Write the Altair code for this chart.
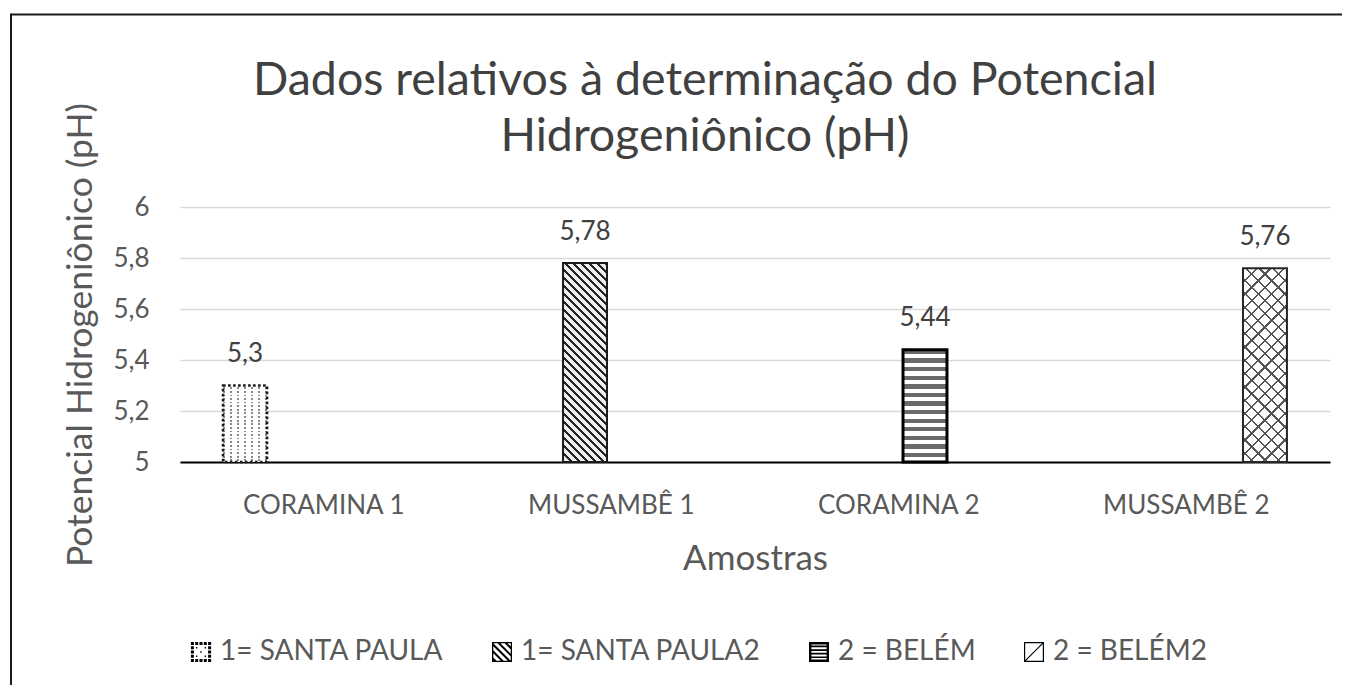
import math
import altair as alt
import pandas as pd

# ---------------- data ----------------
categories = ["CORAMINA 1", "MUSSAMBÊ 1", "CORAMINA 2", "MUSSAMBÊ 2"]
series = ["1= SANTA PAULA", "1= SANTA PAULA2", "2 = BELÉM", "2 = BELÉM2"]
ph_values = [5.3, 5.78, 5.44, 5.76]
y_ticks = [5, 5.2, 5.4, 5.6, 5.8, 6]
title_lines = ["Dados relativos à determinação do Potencial", "Hidrogeniônico (pH)"]
x_title = "Amostras"
y_title = "Potencial Hidrogeniônico (pH)"

df = pd.DataFrame({"amostra": categories, "serie": series, "ph": ph_values})

# ---------------- layout / style ----------------
FONT = "Lato"
TXT = "#595959"
W, H = 1150, 255
Y0, Y1 = 5, 6
PAD = {"left": 172, "top": 199, "right": 12, "bottom": 223}
X_PI, X_PO = 0.27, 0.135
O_PI, O_PO = 0.162, 0.081
TRANSP = "rgba(255,255,255,0)"

n_cat, n_ser = len(categories), len(series)
x_bw = W / (n_cat - X_PI + 2 * X_PO) * (1 - X_PI)
BAR_W = x_bw / (n_ser - O_PI + 2 * O_PO) * (1 - O_PI)


def bar_height(s):
    return (ph_values[series.index(s)] - Y0) / (Y1 - Y0) * H


def stripes(w, h, d, period, segs):
    """Striped linear gradient (bounding-box units) whose iso-lines follow
    pixel direction d, repeating every `period` px."""
    dx, dy = d
    ln = math.hypot(dx, dy)
    nx, ny = -dy / ln, dx / ln
    s = [0.0, w * nx, h * ny, w * nx + h * ny]
    smin, smax = min(s), max(s)
    L = smax - smin
    a0, a1 = w * nx / L, h * ny / L
    aa = a0 * a0 + a1 * a1
    x1, y1 = a0 * (smin / L) / aa, a1 * (smin / L) / aa
    x2, y2 = x1 + a0 / aa, y1 + a1 / aa
    n = L / period
    stops = []
    k = 0
    while k < n:
        for f0, f1, col in segs:
            o0, o1 = (k + f0) / n, (k + f1) / n
            if o0 >= 1:
                break
            o1 = min(o1, 1.0)
            stops.append(alt.GradientStop(offset=round(o0, 5), color=col))
            stops.append(alt.GradientStop(offset=round(o1, 5), color=col))
        k += 1
    return alt.LinearGradient(gradient="linear", stops=stops,
                              x1=round(x1, 5), y1=round(y1, 5),
                              x2=round(x2, 5), y2=round(y2, 5))


# ---------------- legend symbol paths (unit box -1..1) ----------------
def fmt(v):
    t = f"{v:.3f}".rstrip("0").rstrip(".")
    return "0" if t in ("-0", "") else t


def sarea(pts):
    return sum(pts[i][0] * pts[(i + 1) % len(pts)][1] - pts[(i + 1) % len(pts)][0] * pts[i][1]
               for i in range(len(pts)))


def poly(pts, positive=True):
    if (sarea(pts) > 0) != positive:
        pts = list(reversed(pts))
    return "M" + "L".join(f"{fmt(x)},{fmt(y)}" for x, y in pts) + "Z"


def box(x0, y0, x1, y1):
    return [(x0, y0), (x1, y0), (x1, y1), (x0, y1)]


def frame(t):
    return poly(box(-1, -1, 1, 1)) + poly(box(-1 + t, -1 + t, 1 - t, 1 - t), positive=False)


def clip(pts, b):
    for k in (0, 1):
        for sg in (1, -1):
            lim = sg * b
            out = []
            for i in range(len(pts)):
                cur, prev = pts[i], pts[i - 1]
                ins_c, ins_p = sg * cur[k] <= b, sg * prev[k] <= b
                if ins_c != ins_p:
                    t = (lim - prev[k]) / (cur[k] - prev[k])
                    out.append((prev[0] + t * (cur[0] - prev[0]), prev[1] + t * (cur[1] - prev[1])))
                if ins_c:
                    out.append(cur)
            pts = out
            if not pts:
                return []
    return pts


def stripe(d, c0, c1, b):
    dx, dy = d
    ln = math.hypot(dx, dy)
    dx, dy = dx / ln, dy / ln
    nx, ny = -dy, dx
    L = 4
    pts = [(nx * c0 - dx * L, ny * c0 - dy * L), (nx * c0 + dx * L, ny * c0 + dy * L),
           (nx * c1 + dx * L, ny * c1 + dy * L), (nx * c1 - dx * L, ny * c1 - dy * L)]
    pts = clip(pts, b)
    return poly(pts) if len(pts) >= 3 else ""


def dot(cx, cy, r):
    return poly(box(cx - r, cy - r, cx + r, cy + r))


p_dotted = ""
edge = [-0.86, -0.43, 0.0, 0.43, 0.86]
seen = set()
for p in edge:
    for q in [(p, -0.86), (p, 0.86), (-0.86, p), (0.86, p)]:
        if q not in seen:
            seen.add(q)
            p_dotted += dot(q[0], q[1], 0.15)
for q in [(-0.43, -0.43), (0.43, -0.43), (-0.43, 0.43), (0.43, 0.43), (0, 0)]:
    p_dotted += dot(q[0], q[1], 0.07)

p_hatch = frame(0.13)
c = -1.5
while c < 1.5:
    p_hatch += stripe((1, 1), c, c + 0.2, 0.87)
    c += 0.5

p_hstripe = frame(0.24)
yy = -0.64
while yy < 0.7:
    p_hstripe += poly(box(-0.76, yy, 0.76, yy + 0.17))
    yy += 0.36

p_cross = frame(0.12) + stripe((1, -1), -0.06, 0.06, 0.88)

symbol_paths = [p_dotted, p_hatch, p_hstripe, p_cross]

# ---------------- encodings ----------------
X = alt.X("amostra:N",
          scale=alt.Scale(domain=categories, paddingInner=X_PI, paddingOuter=X_PO),
          axis=alt.Axis(title=x_title, labelAngle=0, ticks=False, tickSize=0, labelPadding=30,
                        labelFont=FONT, labelFontSize=26, labelColor=TXT,
                        titleFont=FONT, titleFontSize=35, titleFontWeight="normal",
                        titleColor=TXT, titlePadding=23, domainColor="#000000",
                        domainWidth=2, grid=False))
XO = alt.XOffset("serie:N", scale=alt.Scale(domain=series, paddingInner=O_PI, paddingOuter=O_PO))
Y = alt.Y("ph:Q", scale=alt.Scale(domain=[Y0, Y1], zero=False, nice=False),
          axis=alt.Axis(title=y_title, values=y_ticks,
                        labelExpr="replace(format(datum.value, '~g'), '.', ',')",
                        domain=False, ticks=False, tickSize=0, labelPadding=31,
                        labelFont=FONT, labelFontSize=26, labelColor=TXT,
                        grid=True, gridColor="#d9d9d9", gridWidth=1.3,
                        titleFont=FONT, titleFontSize=35.5, titleFontWeight="normal",
                        titleColor=TXT, titlePadding=14))


def bar_layer(s, fill, **kw):
    return (alt.Chart(df)
            .transform_filter(alt.FieldEqualPredicate(field="serie", equal=s))
            .mark_bar(fill=fill, **kw)
            .encode(x=X, xOffset=XO, y=Y, y2=alt.Y2Datum(Y0)))


layers = []
# 1= SANTA PAULA : dotted
s = series[0]
h = bar_height(s)
layers.append(bar_layer(s, stripes(BAR_W, h, (0, 1), 7.0, [(0, 0.32, "#8a8a8a"), (0.32, 1, "#ffffff")])))
layers.append(bar_layer(s, stripes(BAR_W, h, (1, 0), 3.6, [(0, 0.5, "#ffffff"), (0.5, 1, TRANSP)])))
layers.append(bar_layer(s, "transparent", stroke="#1a1a1a", strokeWidth=2.6, strokeDash=[2.6, 2.4]))
# 1= SANTA PAULA2 : diagonal hatch
s = series[1]
h = bar_height(s)
layers.append(bar_layer(s, stripes(BAR_W, h, (1, 1), 8 / math.sqrt(2),
                                   [(0, 0.42, "#262626"), (0.42, 1, "#efefef")]),
                        stroke="#1a1a1a", strokeWidth=2))
# 2 = BELÉM : horizontal stripes
s = series[2]
h = bar_height(s)
layers.append(bar_layer(s, stripes(BAR_W, h, (1, 0), 8.6, [(0, 0.5, "#6a6a6a"), (0.5, 1, "#ffffff")]),
                        stroke="#000000", strokeWidth=3))
# 2 = BELÉM2 : cross hatch
s = series[3]
h = bar_height(s)
layers.append(bar_layer(s, stripes(BAR_W, h, (1, 1), 9.4, [(0, 0.17, "#555555"), (0.17, 1, "#ffffff")])))
layers.append(bar_layer(s, stripes(BAR_W, h, (1, -1), 9.4, [(0, 0.17, "#555555"), (0.17, 1, TRANSP)]),
                        stroke="#262626", strokeWidth=2))

# data labels
layers.append(
    alt.Chart(df)
    .transform_calculate(lbl="replace(format(datum.ph, '.2~f'), '.', ',')")
    .mark_text(dy=-23.5, baseline="alphabetic", font=FONT, fontSize=26, color="#404040")
    .encode(x=X, xOffset=XO, y=Y, text=alt.Text("lbl:N"))
)

# invisible points carrying the patterned legend
layers.append(
    alt.Chart(df)
    .mark_point(filled=True, opacity=0, color="black")
    .encode(x=X, xOffset=XO, y=Y,
            shape=alt.Shape("serie:N",
                            scale=alt.Scale(domain=series, range=symbol_paths),
                            legend=alt.Legend(title=None, orient="none", legendX=7, legendY=431,
                                              direction="horizontal", padding=0,
                                              labelFont=FONT, labelFontSize=28, labelColor=TXT,
                                              labelLimit=600, labelOffset=5, columnPadding=44,
                                              symbolSize=400, symbolOpacity=1,
                                              symbolStrokeWidth=0, symbolFillColor="black")))
)

# outer chart frame (top and left edges)
frame_df = pd.DataFrame({"k": [0]})
layers.append(alt.Chart(frame_df).mark_rule(color="#1a1a1a", strokeWidth=2)
              .encode(x=alt.value(-169), x2=alt.value(W + PAD["right"]), y=alt.value(-192.5)))
layers.append(alt.Chart(frame_df).mark_rule(color="#1a1a1a", strokeWidth=2)
              .encode(x=alt.value(-169), y=alt.value(-193.5), y2=alt.value(H + PAD["bottom"])))

chart = (
    alt.layer(*layers)
    .properties(
        width=W, height=H,
        padding=PAD,
        autosize=alt.AutoSizeParams(type="none"),
        background="white",
        title=alt.TitleParams(text=title_lines, font=FONT, fontSize=46.5, fontWeight="normal",
                              color="#404040", anchor="middle", frame="group", dx=-50,
                              offset=0, dy=148, lineHeight=56),
    )
    .configure_view(strokeWidth=0)
)

chart.save("out.html", embed_options={"renderer": "svg", "actions": False})
